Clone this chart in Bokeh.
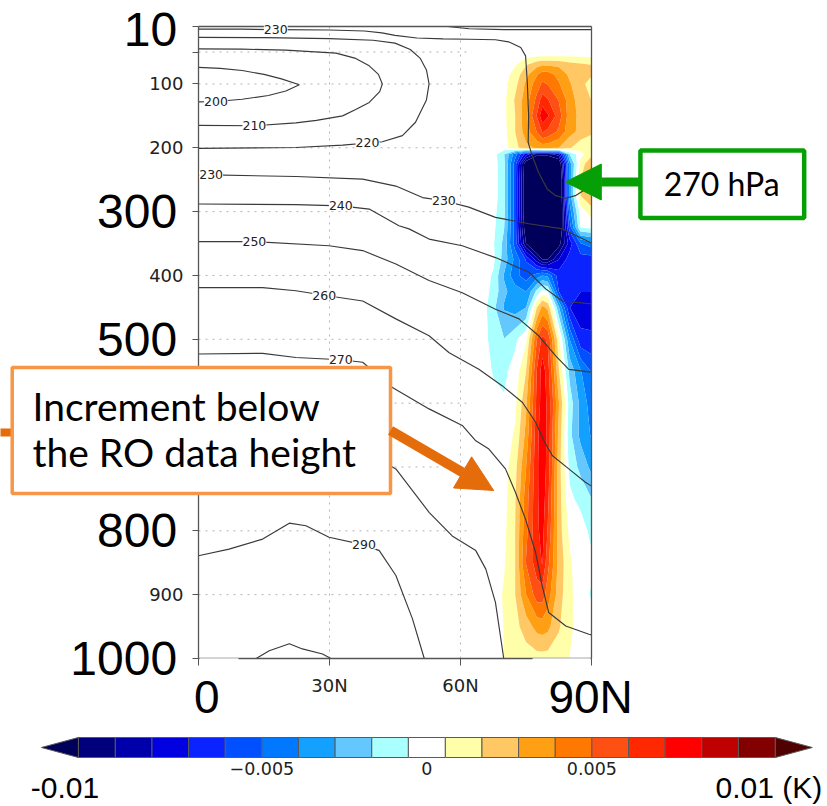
import numpy as np
from bokeh.plotting import figure
from bokeh.models import (Range1d, FixedTicker, LinearAxis, BoxAnnotation, Label, LabelSet,
                          ColumnDataSource, Arrow, NormalHead)
from bokeh.core.properties import value
from bokeh.embed import file_html
from bokeh.resources import INLINE

# ---------------- data ----------------
# temperature increment field (unit: 1e-3 K), rows = pressure levels, columns = latitudes
inc_lats = [62.5, 65, 67.5, 70, 72.5, 75, 77.5, 78.75, 80, 82.5, 85, 87.5, 90]
inc_hpa = [10, 40, 55, 70, 85, 100, 125, 150, 175, 200, 210, 225, 250, 275, 300, 325, 350,
           375, 400, 425, 450, 500, 550, 600, 650, 700, 750, 800, 850, 900, 950, 1000]
inc_mK = [
    [0, 0, 0, 0, 0, 0, 0, 0, 0, 0, 0, 0, 0],
    [0, 0, 0, 0, 0, 0, 0, 0, 0, 0, 0, 0, 0],
    [0, 0, 0, 0, 0, 0.1, 0.25, 0.3, 0.3, 0.3, 0.3, 0.3, 0.3],
    [0, 0, 0, 0, 0.45, 1.55, 2.45, 2.65, 2.65, 2.55, 2.1, 1.9, 1.65],
    [0, 0, 0, 0.1, 1.0, 2.45, 3.8, 4.45, 4.35, 3.55, 2.55, 2.1, 1.8],
    [0, 0, 0, 0.2, 1.3, 3.0, 4.45, 5.2, 4.95, 4.0, 2.9, 2.0, 1.2],
    [0, 0, 0, 0.3, 1.8, 3.35, 5.35, 6.65, 6.2, 4.95, 3.35, 2.2, 1.65],
    [0, 0, 0, 0.3, 1.65, 3.55, 6.2, 8.1, 7.35, 5.55, 3.35, 2.45, 2.1],
    [0, 0, 0, 0.2, 1.65, 3.35, 5.05, 6.2, 5.8, 4.8, 3.2, 2.45, 1.8],
    [0, 0, 0, 0.1, 1.3, 2.45, 3.0, 3.2, 3.2, 2.8, 1.8, 0.9, 1.1],
    [0, 0, 0, -1.65, -4.45, -7.8, -10.0, -10.0, -10.0, -8.9, -1.65, 0.2, 1.3],
    [0, 0, 0, -1.45, -5.55, -11.65, -13.3, -13.3, -13.3, -12.2, -3.35, 0.9, 2.8],
    [0, 0, 0, -1.35, -5.55, -12.2, -14.4, -14.4, -14.4, -13.3, -3.35, 1.65, 3.55],
    [0, 0, 0, -1.35, -5.55, -12.2, -14.4, -14.4, -14.4, -13.3, -3.35, 1.65, 2.9],
    [0, 0, -0.2, -1.45, -5.55, -12.2, -14.4, -14.4, -14.4, -13.3, -4.45, 0, 1.1],
    [0, 0, -0.3, -1.65, -5.55, -11.65, -14.4, -14.4, -14.4, -12.8, -5.55, -0.55, -0.3],
    [0, 0, -0.45, -2.0, -5.55, -10.55, -13.3, -13.3, -13.3, -11.1, -7.8, -5.05, -4.45],
    [0, 0, -0.3, -2.2, -4.2, -6.2, -8.9, -10.55, -10.55, -8.35, -6.65, -6.65, -6.65],
    [0, 0, -0.7, -2.9, -4.65, -5.55, -4.45, -3.9, -4.2, -6.65, -7.0, -7.0, -6.65],
    [0, 0, -0.9, -2.55, -3.35, -3.9, -1.35, -0.2, -0.55, -6.1, -7.2, -7.2, -7.2],
    [0, 0, -1.35, -2.9, -3.35, -2.8, 1.65, 3.1, 2.45, -2.6, -7.2, -7.8, -7.8],
    [0, 0, -1.1, -1.65, -0.8, 0.3, 5.05, 6.45, 5.9, 0.9, -3.9, -6.9, -7.0],
    [0, 0, -0.65, -0.8, -0.1, 1.65, 6.2, 7.8, 6.65, 1.8, -2.0, -3.8, -5.1],
    [0, 0, -0.2, -0.45, 0.3, 2.55, 6.45, 7.8, 7.0, 2.9, -1.1, -3.1, -4.45],
    [0, 0, 0, 0, 0.7, 3.1, 6.9, 8.0, 6.9, 2.45, -1.35, -3.1, -4.0],
    [0, 0, 0, 0.1, 1.3, 3.85, 7.0, 8.0, 6.8, 2.2, -0.9, -2.0, -3.1],
    [0, 0, 0, 0.2, 1.55, 4.45, 7.0, 7.9, 6.4, 2.2, -0.3, -0.9, -1.65],
    [0, 0, 0, 0.3, 1.65, 4.65, 7.0, 7.6, 6.0, 2.2, 0.3, 0, -0.9],
    [0, 0, 0, 0.45, 1.65, 5.05, 6.7, 7.3, 5.35, 2.45, 0.7, 0, -0.3],
    [0, 0, 0, 0.7, 1.65, 3.85, 5.55, 5.55, 4.45, 2.2, 0.8, 0, -0.7],
    [0, 0, 0, 0.6, 1.3, 2.2, 3.2, 3.35, 3.1, 1.8, 0.8, 0, 0],
    [0, 0, 0, 0.6, 1.0, 1.1, 1.2, 1.2, 1.2, 1.1, 0.55, 0.1, 0],
]

# colour scale (1e-3 K)
cb_edges_mK = [-10.56, -9.44, -8.33, -7.22, -6.11, -5.0, -3.89, -2.78, -1.67, -0.56,
               0.56, 1.67, 2.78, 3.89, 5.0, 6.11, 7.22, 8.33, 9.44, 10.56]
cb_colors = ["#00005A", "#00007D", "#0000AA", "#0000E1", "#0A23FF", "#0050FF", "#0078FF",
             "#14A0FF", "#64C8FF", "#AAFFFF", "#FFFFFF", "#FFFFAA", "#FFC864", "#FFA014",
             "#FF7800", "#FF5014", "#FF2800", "#FF0000", "#BE0000", "#820000", "#500000"]
cb_tick_mK = [-5, 0, 5]
cb_tick_text = ["\u22120.005", "0", "0.005"]
cb_end_mK = [-12.0, 11.98]
cb_end_text = ["-0.01", "0.01 (K)"]

# isotherms (K): latitude / pressure pairs
iso_200_lat = [0, 5, 10, 15, 19, 23.1, 20, 16, 10, 4, 0]
iso_200_hpa = [74, 75.5, 79, 85, 92, 101.3, 111, 118, 124, 127.5, 128]
iso_210_lat = [0, 10, 20, 31.5, 36, 39.1, 41.2, 42.1, 41.5, 39.1, 36, 33, 27, 22.3, 12.8, 0]
iso_210_hpa = [45, 45.5, 47, 51.7, 60, 71.6, 85, 100, 112, 129, 140, 150, 157, 161, 165.5, 165]
iso_220_lat = [0, 15, 30, 40, 45, 48.5, 50.8, 52.2, 52.8, 52.2, 49.7, 46.7, 42.1, 33, 22.3, 0]
iso_220_hpa = [27, 27.5, 29, 31.5, 36, 46, 60, 78, 100, 125, 160, 181, 190.6, 195.8, 199.5, 201]
iso_230a_lat = [0, 10, 17.7, 30, 38, 42, 45, 50, 56, 62, 68, 71, 73.8, 74.9, 75.3, 75.6, 75.5,
                76.4, 77.9, 79.9, 81.8, 84.1, 86.3, 88.2, 90]
iso_230a_hpa = [14, 14.2, 14.8, 15.5, 17, 20, 24, 28, 29.5, 30, 30.8, 34, 43, 56, 98, 150, 192,
                212, 239, 265, 275, 279, 275, 267, 260]
iso_240a_lat = [57, 62, 70, 80, 90]
iso_240a_hpa = [10, 13.5, 14.8, 15, 14.8]
iso_230b_lat = [0, 2.9, 22.3, 37.6, 45.2, 51.3, 56.2, 61.9, 68, 75.7, 83.4, 85.7, 90]
iso_230b_hpa = [243, 242.5, 245, 249, 260, 278, 283, 293, 309, 319, 327, 335, 349]
iso_240b_lat = [0, 22.3, 32.6, 39.1, 45.9, 48.2, 52.8, 60.4, 68, 75.7, 79.5, 83.3, 89.4, 90]
iso_240b_hpa = [288, 289, 291, 296, 322, 327, 343, 353.5, 372, 395, 421, 440, 444, 444]
iso_250_lat = [0, 12.8, 29.9, 37.6, 45.2, 52.8, 60.4, 68, 73.4, 77.9, 81.8, 84.8, 89.4, 90]
iso_250_hpa = [347, 347, 353.5, 361, 382, 408, 427, 453, 468, 494.5, 526, 547, 551, 551]
iso_260_lat = [0, 14.7, 22.3, 28.8, 37.6, 45.2, 52.8, 57.4, 64.2, 69.6, 74.2, 77.2, 79.1, 81,
               84.8, 88.6, 90]
iso_260_hpa = [419, 419, 424, 431, 440, 468, 494.5, 521, 547, 573, 599, 630, 659, 682, 703,
               724, 730]
iso_270_lat = [0, 14.7, 22.3, 32.6, 37.6, 44.4, 52.8, 60.4, 63.5, 66.5, 70.3, 72.6, 74.9,
               77.2, 78.7, 80.2, 84.1, 89.4, 90]
iso_270_hpa = [523, 522, 528.5, 532, 536, 575.5, 609, 635, 659, 672, 703, 740, 782, 834, 886,
               928, 949, 962, 963]
iso_280_lat = [0, 20, 35, 44.4, 45.2, 52.8, 58.1, 63.5, 65.8, 68, 69.9]
iso_280_hpa = [640, 645, 670, 700, 703, 771, 808, 831, 860, 912, 1000]
iso_290_lat = [0, 7, 14.7, 20.8, 24.6, 29.9, 37.9, 41.4, 45.2, 49, 51.7]
iso_290_hpa = [839, 828.6, 813, 788, 792, 810, 822, 831, 870, 938, 1000]
iso_300_lat = [13.2, 16.2, 20.8, 23.8, 28.4, 30.3]
iso_300_hpa = [1000, 988, 977, 985, 993, 1000]

label_lat = [17.7, 4, 12.8, 38.7, 2.9, 56.2, 32.6, 12.8, 28.8, 32.6, 37.9]
label_hpa = [14.8, 127.5, 165.5, 192.3, 242.5, 283, 291, 347, 431, 532, 822]
label_text = ["230", "200", "210", "220", "230", "230", "240", "250", "260", "270", "290"]

y_ticks = [10, 50, 100, 200, 300, 400, 500, 600, 700, 800, 900, 1000]
y_big = [10, 300, 500, 800, 1000]
y_grid = [50, 100, 200, 300, 400, 500, 600, 700, 800, 900]
x_ticks = [0, 30, 60, 90]
x_tick_text = {30: "30N", 60: "60N"}
x_grid = [30, 60]
x_big = [0, 90]
x_big_text = ["0", "90N"]

# ---------------- figure (frame = whole page) ----------------
p = figure(width=827, height=806, x_range=Range1d(-45.34, 144.04),
           y_range=Range1d(1231.85, -30.73), min_border=0,
           x_axis_location=None, y_axis_location=None,
           toolbar_location=None, output_backend="svg")
p.extra_x_ranges = {"cbx": Range1d(-12.92, 12.14)}
p.extra_y_ranges = {"px": Range1d(806, 0)}
p.background_fill_color = "white"
p.border_fill_color = "white"
p.outline_line_color = None
p.grid.visible = False

# dotted grid
p.segment(x0=[0] * len(y_grid), x1=[90] * len(y_grid), y0=y_grid, y1=y_grid,
          line_color="#b4b4b4", line_dash="2 5", line_width=1)
p.segment(x0=x_grid, x1=x_grid, y0=[10] * len(x_grid), y1=[1000] * len(x_grid),
          line_color="#b4b4b4", line_dash="2 5", line_width=1)

# shaded increment
levels = [-1000.0] + cb_edges_mK + [1000.0]
p.contour(x=inc_lats, y=inc_hpa, z=np.array(inc_mK), levels=levels,
          fill_color=cb_colors, line_color=None)

# isotherms
isos = [(iso_200_lat, iso_200_hpa), (iso_210_lat, iso_210_hpa), (iso_220_lat, iso_220_hpa),
        (iso_230a_lat, iso_230a_hpa), (iso_240a_lat, iso_240a_hpa),
        (iso_230b_lat, iso_230b_hpa), (iso_240b_lat, iso_240b_hpa),
        (iso_250_lat, iso_250_hpa), (iso_260_lat, iso_260_hpa), (iso_270_lat, iso_270_hpa),
        (iso_280_lat, iso_280_hpa), (iso_290_lat, iso_290_hpa), (iso_300_lat, iso_300_hpa)]
p.multi_line(xs=[a for a, b in isos], ys=[b for a, b in isos], line_color="#3a3a3a",
             line_width=1.15)
lab_src = ColumnDataSource(dict(x=label_lat, y=label_hpa, t=label_text))
p.add_layout(LabelSet(x="x", y="y", text="t", source=lab_src, text_align="center",
                      text_baseline="middle", text_font=value("DejaVu Sans"),
                      text_font_size="12.5px", text_color="#222222",
                      background_fill_color="white"))

# axes (frame of the cross-section)
ax_col = "#555555"
def style(ax):
    ax.axis_line_color = ax_col
    ax.axis_line_width = 1.3
    ax.major_tick_line_color = ax_col
    ax.minor_tick_line_color = None
    ax.major_tick_in = 0
    ax.major_label_text_font = "DejaVu Sans"
    ax.major_label_text_font_size = "18px"
    ax.major_label_text_color = "#222222"

yax = LinearAxis(fixed_location=0, bounds=(10, 1000), ticker=FixedTicker(ticks=y_ticks),
                 major_label_overrides={t: ("" if t in y_big or t == 50 else str(t))
                                        for t in y_ticks})
style(yax)
yax.major_tick_out = 6
yax.major_label_standoff = 9
p.add_layout(yax, "left")
xax = LinearAxis(fixed_location=1000, bounds=(0, 90), ticker=FixedTicker(ticks=x_ticks),
                 major_label_overrides={t: x_tick_text.get(t, "") for t in x_ticks})
style(xax)
xax.major_tick_out = 7
xax.major_label_standoff = 10
p.add_layout(xax, "below")
for loc, fl, bd in (("above", 10, (0, 90)), ("right", 90, (10, 1000))):
    fr = LinearAxis(fixed_location=fl, bounds=bd, ticker=FixedTicker(ticks=[]))
    style(fr)
    fr.major_tick_line_color = None
    fr.major_label_text_font_size = "0px"
    p.add_layout(fr, loc)

# masks over the bottom frame under the large slide labels
for l, r in ((0.23, 9.16), (76.5, 89.77)):
    p.add_layout(BoxAnnotation(left=l, right=r, top=999.6, bottom=1090, fill_color="white",
                               fill_alpha=1, line_color=None))

# large slide-style axis labels
for v in y_big:
    p.add_layout(Label(x=-4.9, y=v, text=str(v), text_align="right", text_baseline="middle",
                       text_font="Liberation Sans", text_font_size="48px", text_color="black",
                       y_offset=(-3 if v == 10 else 0)))
for v, t in zip(x_big, x_big_text):
    p.add_layout(Label(x=v + (1.9 if v == 0 else -0.2), y=1061, text=t, text_align="center",
                       text_baseline="middle", text_font="Liberation Sans",
                       text_font_size="46px", text_color="black"))

# callout: increment below RO data height
orange = "#E46C0A"
p.add_layout(BoxAnnotation(left=-45.8, right=-42.6, top=639.7, bottom=652.3,
                           fill_color=orange, fill_alpha=1, line_color=None))
p.add_layout(BoxAnnotation(left=-42.66, right=43.97, top=544.2, bottom=741.5,
                           fill_color="white", fill_alpha=1, line_color="#F79646",
                           line_alpha=1, line_width=3.5))
for t, yv in (("Increment below", 603.7), ("the RO data height", 677.3)):
    p.add_layout(Label(x=-38.0, y=yv, text=t, text_align="left", text_baseline="middle",
                       text_font="Lato", text_font_size="39px", text_color="black"))
p.add_layout(Arrow(x_start=43.97, y_start=642.9, x_end=67.6, y_end=736.8,
                   line_color=orange, line_width=10,
                   end=NormalHead(size=36, fill_color=orange, line_color=orange)))

# callout: 270 hPa
green = "#06A006"
p.add_layout(BoxAnnotation(left=101.2, right=138.7, top=204.2, bottom=310,
                           fill_color="white", fill_alpha=1, line_color=green,
                           line_alpha=1, line_width=4.5))
p.add_layout(Label(x=119.8, y=256, text="270 hPa", text_align="center",
                   text_baseline="middle", text_font="Lato", text_font_size="32px",
                   text_color="black"))
p.add_layout(Arrow(x_start=101.2, y_start=253.6, x_end=84.0, y_end=253.6,
                   line_color=green, line_width=9,
                   end=NormalHead(size=36, fill_color=green, line_color=green)))

# ---------------- colour bar (own x scale in 1e-3 K) ----------------
p.quad(left=cb_edges_mK[:-1], right=cb_edges_mK[1:], top=737, bottom=757,
       fill_color=cb_colors[1:-1], line_color="#5a5a5a", line_width=1,
       x_range_name="cbx", y_range_name="px")
w = cb_edges_mK[1] - cb_edges_mK[0]
e0, e1 = cb_edges_mK[0], cb_edges_mK[-1]
p.patches(xs=[[e0, e0 - w, e0], [e1, e1 + w, e1]], ys=[[737, 747, 757], [737, 747, 757]],
          fill_color=[cb_colors[0], cb_colors[-1]], line_color="#5a5a5a", line_width=1,
          x_range_name="cbx", y_range_name="px")
p.text(x=cb_tick_mK, y=[768] * len(cb_tick_mK), text=cb_tick_text,
       text_font=value("DejaVu Sans"), text_font_size="17.5px", text_color="#222222",
       text_align="center", text_baseline="middle", x_range_name="cbx", y_range_name="px")
p.text(x=cb_end_mK, y=[787, 787], text=cb_end_text, text_font=value("Liberation Sans"),
       text_font_size="30px", text_color="black", text_align=["left", "right"],
       text_baseline="middle", x_range_name="cbx", y_range_name="px")

open("out.html", "w").write(file_html(p, INLINE))
